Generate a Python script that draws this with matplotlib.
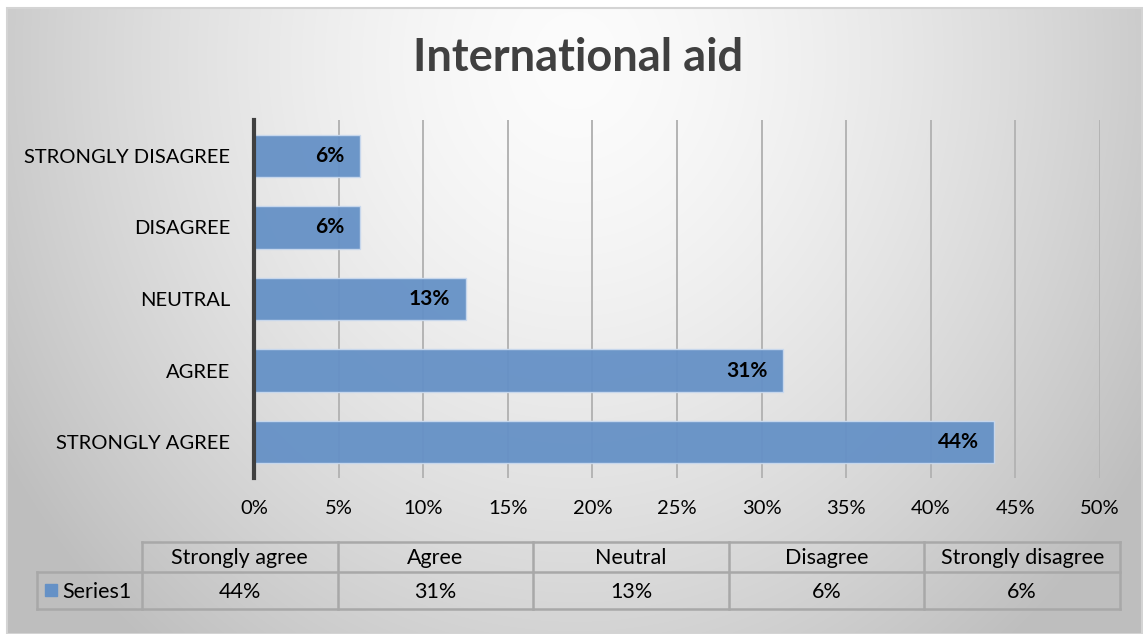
import numpy as np
import matplotlib
matplotlib.use("Agg")
import matplotlib.pyplot as plt
from matplotlib.patches import Rectangle

plt.rcParams['font.family'] = ['Lato', 'DejaVu Sans']

# survey responses (share of respondents)
categories = ["Strongly agree", "Agree", "Neutral", "Disagree", "Strongly disagree"]
shares = [0.4375, 0.3125, 0.125, 0.0625, 0.0625]
series_name = "Series1"
title = "International aid"

bar_color = "#6591c6"
W, H = 1143, 634


def fig_rect(x0, y0, x1, y1):
    # pixel box (top-left origin) -> figure fraction
    return [x0 / W, 1 - y1 / H, (x1 - x0) / W, (y1 - y0) / H]


def pct(v):
    return "%d%%" % int(v * 100 + 0.5)


fig = plt.figure(figsize=(W / 100, H / 100), dpi=100, facecolor="white")

# soft grey gradient behind the whole chart
bg = fig.add_axes([0, 0, 1, 1], zorder=-10)
yy, xx = np.mgrid[0:H, 0:W]
r = np.sqrt(((xx - 575) / 600.0) ** 2 + ((yy - 60) / 680.0) ** 2)
shade = 252 - 52 * np.clip(r, 0, 1.12) ** 1.5
img = np.dstack([shade, shade, shade]) / 255.0
bg.imshow(img, extent=(0, W, H, 0), aspect="auto", interpolation="bilinear")
bg.set_xlim(0, W)
bg.set_ylim(H, 0)
bg.axis("off")
# white margin and thin border
bg.add_patch(Rectangle((0, 0), W, 7, color="white"))
bg.add_patch(Rectangle((0, 0), 6, H, color="white"))
bg.add_patch(Rectangle((6.5, 7.5), W - 8, H - 8, fill=False, ec="#d4d4d4", lw=1.5))

fig.text(578 / W, 1 - 58 / H, title, ha="center", va="center",
         fontsize=32.5, fontweight="bold", color="#404040")

# main bar chart
ax = fig.add_axes(fig_rect(254, 120, 1100, 478))
ax.set_facecolor("none")
ypos = np.arange(len(categories))
bars = ax.barh(ypos, shares, height=0.59, color=bar_color, alpha=0.95,
               edgecolor="#c9d9ee", linewidth=1.0, zorder=3)
for b, v in zip(bars, shares):
    ax.text(v - 0.009, b.get_y() + b.get_height() / 2, pct(v), ha="right",
            va="center", fontsize=15, fontweight="bold", color="black", zorder=4)

ax.set_xlim(0, 0.5)
ax.set_ylim(-0.5, len(categories) - 0.5)
ax.set_xticks(np.arange(0, 0.51, 0.05))
ax.set_xticklabels([pct(t) for t in np.arange(0, 0.51, 0.05)])
ax.set_yticks(ypos)
ax.set_yticklabels([c.upper() for c in categories])
ax.tick_params(axis="both", length=0, labelsize=14.5, colors="black")
ax.tick_params(axis="x", pad=16)
ax.tick_params(axis="y", pad=17)
ax.grid(axis="x", color="#b4b4b4", linewidth=1.4, zorder=1)
ax.set_axisbelow(True)
for s in ["top", "right", "bottom"]:
    ax.spines[s].set_visible(False)
ax.spines["left"].set_color("#404040")
ax.spines["left"].set_linewidth(3)
ax.spines["left"].set_zorder(5)

# data table under the chart
tx0, tx1, ty0, ty1 = 37, 1120, 542, 609
ymid = 572
tbl = fig.add_axes(fig_rect(tx0, ty0, tx1, ty1))
tbl.set_xlim(tx0, tx1)
tbl.set_ylim(ty1, ty0)
tbl.axis("off")
key_w = 105
col_w = (tx1 - tx0 - key_w) / len(categories)
edges = [tx0 + key_w + i * col_w for i in range(len(categories) + 1)]
lc, lw = "#a8a8a8", 1.8
tbl.plot([edges[0], edges[-1]], [ty0, ty0], color=lc, lw=lw, clip_on=False)
tbl.plot([tx0, edges[-1]], [ymid, ymid], color=lc, lw=lw, clip_on=False)
tbl.plot([tx0, edges[-1]], [ty1, ty1], color=lc, lw=lw, clip_on=False)
tbl.plot([tx0, tx0], [ymid, ty1], color=lc, lw=lw, clip_on=False)
for e in edges:
    tbl.plot([e, e], [ty0, ty1], color=lc, lw=lw, clip_on=False)
for i, (c, v) in enumerate(zip(categories, shares)):
    cx = (edges[i] + edges[i + 1]) / 2
    tbl.text(cx, (ty0 + ymid) / 2 + 1, c, ha="center", va="center", fontsize=15.5, color="black")
    tbl.text(cx, (ymid + ty1) / 2 + 1, pct(v), ha="center", va="center", fontsize=15.5, color="black")
tbl.add_patch(Rectangle((45, 584), 12, 12, color=bar_color, clip_on=False))
tbl.text(62, (ymid + ty1) / 2 + 1, series_name, ha="left", va="center", fontsize=15.5, color="black")

fig.savefig("out.png", dpi=100, facecolor="white")
